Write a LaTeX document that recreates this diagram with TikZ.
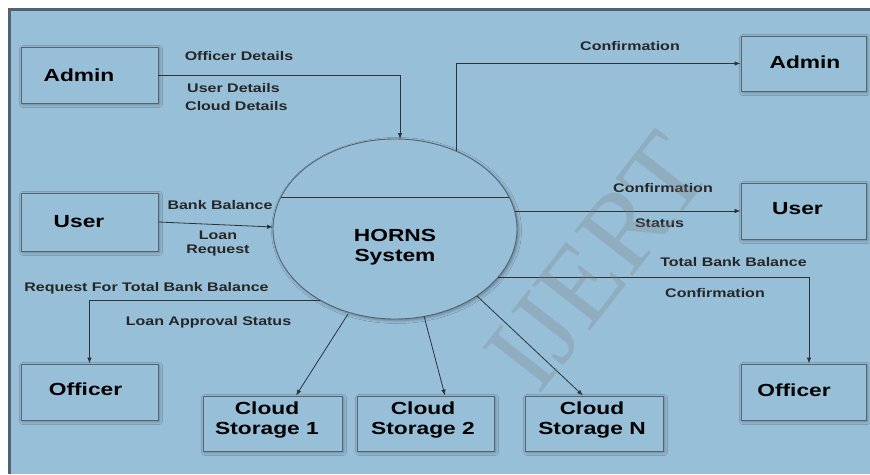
\documentclass[tikz,border=0pt]{standalone}
\usepackage{fontspec}
\newfontfamily\labfont[FakeStretch=1.28]{Liberation Sans}
\newfontfamily\boxfont[FakeStretch=1.3]{Liberation Sans}
\newfontfamily\wmfont{Liberation Serif}
\usetikzlibrary{arrows.meta,shadows.blur,shapes.geometric,calc}
\definecolor{panel}{HTML}{97BFD8}
\definecolor{frameline}{HTML}{4E6473}
\definecolor{boxline}{HTML}{56636D}
\definecolor{flowline}{HTML}{2E3338}
\tikzset{
  entity/.style={draw=boxline, line width=0.9pt, fill=panel, inner sep=0pt,
    blur shadow={shadow xshift=1.5pt, shadow yshift=-1.5pt, shadow blur radius=3pt, shadow opacity=35}},
  boxtext/.style={font=\boxfont\bfseries\fontsize{17.5}{20}\selectfont, inner sep=0pt, align=center, text=black},
  lab/.style={font=\labfont\bfseries\fontsize{12.5}{14}\selectfont, inner sep=0pt, align=center, text=black!85},
  flow/.style={draw=flowline, line width=0.8pt, -{Latex[length=6pt,width=4.5pt]}},
  plain/.style={draw=flowline, line width=0.8pt}
}
\begin{document}
\begin{tikzpicture}[x=1pt,y=-1pt]
\useasboundingbox (0,0) rectangle (870,474);
\fill[white] (0,0) rectangle (870,474);
\fill[panel] (8,8) rectangle (870,474);
\draw[frameline, line width=3pt] (9.5,474) -- (9.5,9.5) -- (870,9.5);

% process
\node[ellipse, entity, minimum width=244pt, minimum height=180pt] (sys) at (395,229) {};
\coordinate (chordL) at (281,197);
\coordinate (chordR) at (509,197);
\draw[plain] (chordL) -- (chordR);
\node[boxtext] (systext) at (395,247) {HORNS\\System};

% entities
\node[entity, minimum width=137pt, minimum height=56pt] (adminL) at (89.5,75) {};
\node[boxtext] (adminLt) at (79,75.5) {Admin};
\node[entity, minimum width=137pt, minimum height=58pt] (userL) at (89.5,222) {};
\node[boxtext] (userLt) at (79,222) {User};
\node[entity, minimum width=137pt, minimum height=56pt] (officerL) at (89.5,392) {};
\node[boxtext] (officerLt) at (85.5,389) {Officer};

\node[entity, minimum width=125pt, minimum height=55pt] (adminR) at (803.5,63.5) {};
\node[boxtext] (adminRt) at (805,62) {Admin};
\node[entity, minimum width=125pt, minimum height=56pt] (userR) at (803.5,211) {};
\node[boxtext] (userRt) at (797.5,209) {User};
\node[entity, minimum width=125pt, minimum height=56pt] (officerR) at (803.5,392) {};
\node[boxtext] (officerRt) at (794,390) {Officer};

\node[entity, minimum width=139pt, minimum height=55pt] (cloud1) at (272.5,423.5) {};
\node[boxtext] (cloud1t) at (267,420) {Cloud\\Storage 1};
\node[entity, minimum width=137pt, minimum height=55pt] (cloud2) at (425.5,423.5) {};
\node[boxtext] (cloud2t) at (423,420) {Cloud\\Storage 2};
\node[entity, minimum width=138pt, minimum height=55pt] (cloudN) at (594,423.5) {};
\node[boxtext] (cloudNt) at (592,420) {Cloud\\Storage N};

% border points on the process
\coordinate (sysTop) at (400,139);
\coordinate (sysNE) at (456,151);
\coordinate (sysW) at (273,227);
\coordinate (sysE) at (514.5,211);
\coordinate (sysSW) at (320,300);
\coordinate (sysSE) at (498,277);
\coordinate (sysB1) at (348,314);
\coordinate (sysB2) at (424,316);
\coordinate (sysB3) at (477,296);

% flows
\draw[flow] (adminL.east) -- (sysTop |- adminL.east) -- (sysTop);
\draw[flow] (sysNE) |- (adminR.west);
\draw[flow] (userL.east) -- (sysW);
\draw[flow] (sysE) -- (userR.west);
\draw[flow] (sysSW) -| (officerL.north);
\draw[flow] (sysSE) -| ($(officerR.north)+(5.5,0)$);
\draw[flow] (sysB1) -- ($(cloud1.north)+(23.5,0)$);
\draw[flow] (sysB2) -- ($(cloud2.north)+(19.5,0)$);
\draw[flow] (sysB3) -- ($(cloudN.north)+(-11,0)$);

% labels
\node[lab] (l1) at (239,56) {Officer Details};
\node[lab, anchor=west] (l2) at (187,88) {User Details};
\node[lab, anchor=west] (l3) at (185,106) {Cloud Details};
\node[lab] (l4) at (630,46) {Confirmation};
\node[lab] (l5) at (220,205) {Bank Balance};
\node[lab] (l6) at (218,243) {Loan\\Request};
\node[lab] (l7) at (146.5,288) {Request For Total Bank Balance};
\node[lab] (l8) at (208.5,322) {Loan Approval Status};
\node[lab] (l9) at (663,188) {Confirmation};
\node[lab] (l10) at (659.5,223) {Status};
\node[lab] (l11) at (733.5,262) {Total Bank Balance};
\node[lab] (l12) at (715,293) {Confirmation};

% watermark
\node[font=\wmfont\fontsize{112}{112}\selectfont, text=gray, text opacity=0.28, rotate=52, inner sep=0pt] (wm) at (598,262) {IJERT};
\end{tikzpicture}
\end{document}
